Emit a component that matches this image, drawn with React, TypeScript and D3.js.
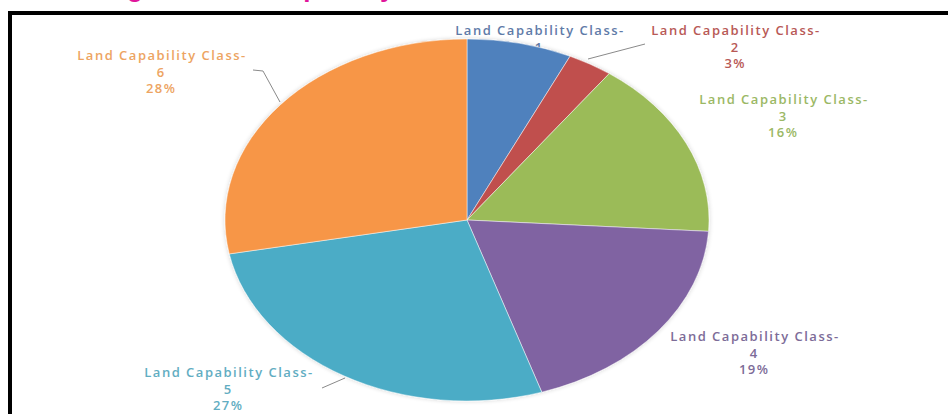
import React from "react";
import * as d3 from "d3";

const classes = ["1", "2", "3", "4", "5", "6"];
const shares = [7, 3, 16, 19, 27, 28];
const sliceColors = ["#4F81BD", "#C0504D", "#9BBB59", "#8064A2", "#4BACC6", "#F79646"];
const labelColors = ["#5F7BA8", "#B85956", "#9BB865", "#7D6C98", "#62ADC2", "#EDA462"];
const labelPrefix = "Land Capability Class-";

// label layout (centre x, first baseline y)
const labelX = [540, 736, 784, 755, 229, 162];
const labelY = [35, 35, 104, 341, 377, 60];
const leaders: [number, number][][] = [
  [],
  [[645, 44], [588, 59]],
  [],
  [],
  [[322, 388], [345, 378]],
  [[253, 70], [263, 71], [280, 102]],
];

const W = 948;
const H = 414;
const cx = 467;
const cy = 220;
const ry = 181;
const rx = 242;

export default function App() {
  const pie = d3
    .pie<number>()
    .sort(null)
    .value((d) => d)
    .startAngle(0)
    .endAngle(2 * Math.PI);
  const arcs = pie(shares);
  const arc = d3.arc<d3.PieArcDatum<number>>().innerRadius(0).outerRadius(ry);
  const line = d3.line();
  const lh = 16.5;

  return (
    <svg
      width={W}
      height={H}
      style={{ position: "absolute", left: 0, top: 0, background: "#fff" }}
      fontFamily="'Open Sans', Lato, sans-serif"
    >
      <defs>
        <filter id="glow" x="-10%" y="-10%" width="120%" height="120%">
          <feGaussianBlur in="SourceAlpha" stdDeviation="2" />
          <feComponentTransfer>
            <feFuncA type="linear" slope="0.18" />
          </feComponentTransfer>
          <feMerge>
            <feMergeNode />
            <feMergeNode in="SourceGraphic" />
          </feMerge>
        </filter>
      </defs>
      <rect x={0} y={0} width={W} height={H} fill="#fff" />
      <text x={104} y={-3} fill="#E0169B" fontSize={26} fontWeight={700} fontFamily="'Liberation Sans', sans-serif">
        Fig. 4.2 Land Capability
      </text>
      {/* frame */}
      <line x1={8} y1={13} x2={W} y2={13} stroke="#000" strokeWidth={4} />
      <line x1={10} y1={11} x2={10} y2={H} stroke="#000" strokeWidth={4} />

      {/* labels (drawn before pie, class 1 label is partly hidden by the pie) */}
      {classes.map((c, i) => (
        <g key={"lab" + c}>
          <text
            x={labelX[i]}
            y={labelY[i]}
            textAnchor="middle"
            fontSize={13}
            fontWeight={600}
            letterSpacing={1.5}
            fill={labelColors[i]}
          >
            <tspan x={labelX[i]}>{labelPrefix}</tspan>
            <tspan x={labelX[i] - 0.75} dy={lh}>{c}</tspan>
            <tspan x={labelX[i] - 0.75} dy={lh}>{shares[i] + "%"}</tspan>
          </text>
          {leaders[i].length > 0 && (
            <path d={line(leaders[i]) || ""} fill="none" stroke="#8A8A8A" strokeWidth={1} />
          )}
        </g>
      ))}

      <g transform={`translate(${cx},${cy}) scale(${rx / ry},1)`} filter="url(#glow)">
        {arcs.map((a, i) => (
          <path
            key={"s" + i}
            d={arc(a) || ""}
            fill={sliceColors[i]}
            stroke="#ffffff"
            strokeOpacity={0.6}
            strokeWidth={0.8}
            vectorEffect="non-scaling-stroke"
          />
        ))}
      </g>
    </svg>
  );
}
